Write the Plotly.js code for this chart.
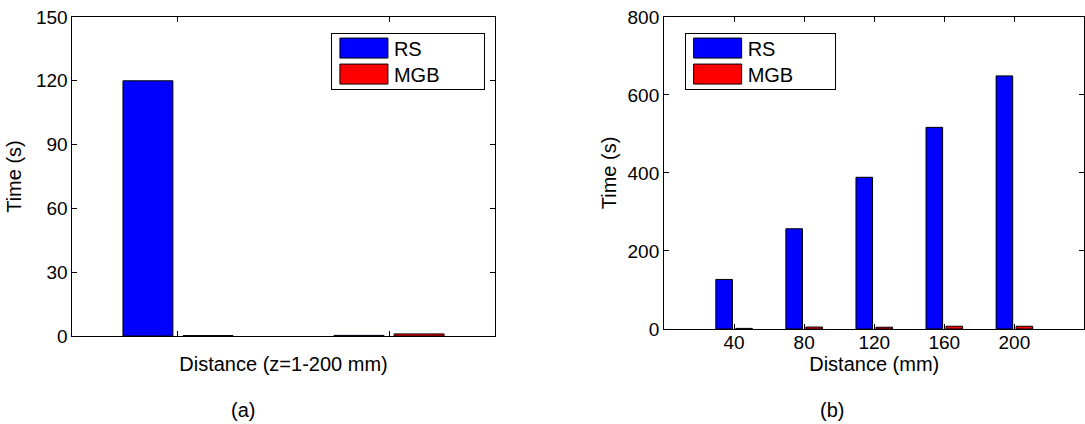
<!DOCTYPE html>
<html>
<head>
<meta charset="utf-8">
<script src="https://cdn.plot.ly/plotly-3.0.1.min.js"></script>
<style>
  html, body { margin: 0; padding: 0; background: #ffffff; }
  #chart { width: 1085px; height: 424px; }
</style>
</head>
<body>
<div id="chart"></div>
<script>
// ---- Data ----
// Panel (a): two unlabeled groups along "Distance (z=1-200 mm)"
const groupsA = [1, 2];
const rsA = [120, 0.3];
const mgbA = [0.2, 1.0];
const yTicksA = [0, 30, 60, 90, 120, 150];

// Panel (b): distance in mm
const distB = [40, 80, 120, 160, 200];
const rsB = [127, 257, 389, 517, 649];
const mgbB = [1.5, 5, 4.5, 7, 7];
const yTicksB = [0, 200, 400, 600, 800];

const seriesNames = ['RS', 'MGB'];
const seriesColors = ['#0000ff', '#ff0000'];

const FONT = 'Liberation Sans, Arial, Helvetica, sans-serif';
const FS = 19;   // tick labels
const FT = 20;   // titles, legend, captions

function barTrace(x, y, i, xa, ya, leg) {
  return {
    type: 'bar', x: x, y: y, name: seriesNames[i],
    xaxis: xa, yaxis: ya, legend: leg,
    marker: { color: seriesColors[i], line: { color: '#000000', width: 1 } },
    hoverinfo: 'x+y+name'
  };
}

const data = [
  barTrace(groupsA, rsA, 0, 'x', 'y', 'legend'),
  barTrace(groupsA, mgbA, 1, 'x', 'y', 'legend'),
  barTrace(distB, rsB, 0, 'x2', 'y2', 'legend2'),
  barTrace(distB, mgbB, 1, 'x2', 'y2', 'legend2')
];

const axCommon = {
  showline: true, linecolor: '#000000', linewidth: 1, mirror: 'ticks',
  ticks: 'inside', ticklen: 5, tickcolor: '#000000', tickwidth: 1,
  showgrid: false, zeroline: false, fixedrange: true,
  tickfont: { family: FONT, size: FS, color: '#000000' },
  automargin: false
};

const legendCommon = {
  bgcolor: '#ffffff', bordercolor: '#000000', borderwidth: 1,
  font: { family: FONT, size: FT, color: '#000000' },
  xanchor: 'left', yanchor: 'top', itemwidth: 50,
  tracegroupgap: 0, itemclick: false, itemdoubleclick: false
};

const layout = {
  width: 1085, height: 424,
  margin: { l: 0, r: 0, t: 0, b: 0, pad: 0 },
  paper_bgcolor: '#ffffff', plot_bgcolor: '#ffffff',
  font: { family: FONT, size: FS, color: '#000000' },
  barmode: 'group', bargap: 0.43, bargroupgap: 0.17,
  xaxis: Object.assign({}, axCommon, {
    domain: [0.0668, 0.4558], range: [0.5, 2.5], anchor: 'y',
    tickvals: groupsA, showticklabels: false,
    title: { text: 'Distance (z=1-200 mm)', font: { family: FONT, size: FT }, standoff: 20 }
  }),
  yaxis: Object.assign({}, axCommon, {
    domain: [0.2075, 0.9599], range: [0, 150], anchor: 'x',
    tickvals: yTicksA,
    title: { text: 'Time (s)', font: { family: FONT, size: FT }, standoff: 8 }
  }),
  xaxis2: Object.assign({}, axCommon, {
    domain: [0.612, 0.9995], range: [0, 240], anchor: 'y2',
    tickvals: distB, ticklabelstandoff: -4,
    title: { text: 'Distance (mm)', font: { family: FONT, size: FT }, standoff: 2 }
  }),
  yaxis2: Object.assign({}, axCommon, {
    domain: [0.2241, 0.9599], range: [0, 800], anchor: 'x2',
    tickvals: yTicksB,
    title: { text: 'Time (s)', font: { family: FONT, size: FT }, standoff: 5 }
  }),
  legend: Object.assign({}, legendCommon, { x: 0.305, y: 0.922 }),
  legend2: Object.assign({}, legendCommon, { x: 0.631, y: 0.922 }),
  showlegend: true,
  annotations: [
    { text: '(a)', xref: 'paper', yref: 'paper', x: 0.224, y: 0.033,
      xanchor: 'center', yanchor: 'middle', showarrow: false,
      font: { family: FONT, size: FT, color: '#000000' } },
    { text: '(b)', xref: 'paper', yref: 'paper', x: 0.767, y: 0.033,
      xanchor: 'center', yanchor: 'middle', showarrow: false,
      font: { family: FONT, size: FT, color: '#000000' } }
  ]
};

// MATLAB-style legend: wide swatches and a compact box
const legendBoxWidths = { legend: 153, legend2: 150 };
function styleLegends(gd) {
  gd.querySelectorAll('g.legend, g.legend2').forEach(function (leg) {
    const key = leg.classList.contains('legend2') ? 'legend2' : 'legend';
    leg.querySelectorAll('g.legendpoints path').forEach(function (p) {
      p.setAttribute('d', 'M24,10H-24V-10H24Z');
    });
    const bg = leg.querySelector('rect.bg');
    if (bg) { bg.setAttribute('width', legendBoxWidths[key]); bg.setAttribute('height', 56); }
    leg.querySelectorAll('g.traces').forEach(function (t, i) {
      const m = /translate\(\s*([-\d.]+)[ ,]+([-\d.]+)\s*\)/.exec(t.getAttribute('transform') || '');
      const x = m ? parseFloat(m[1]) : 1;
      t.setAttribute('transform', 'translate(' + (x + 2) + ',' + (15 + 26 * i) + ')');
    });
  });
}

Plotly.newPlot('chart', data, layout, { displayModeBar: false, staticPlot: true })
  .then(styleLegends);
</script>
</body>
</html>
